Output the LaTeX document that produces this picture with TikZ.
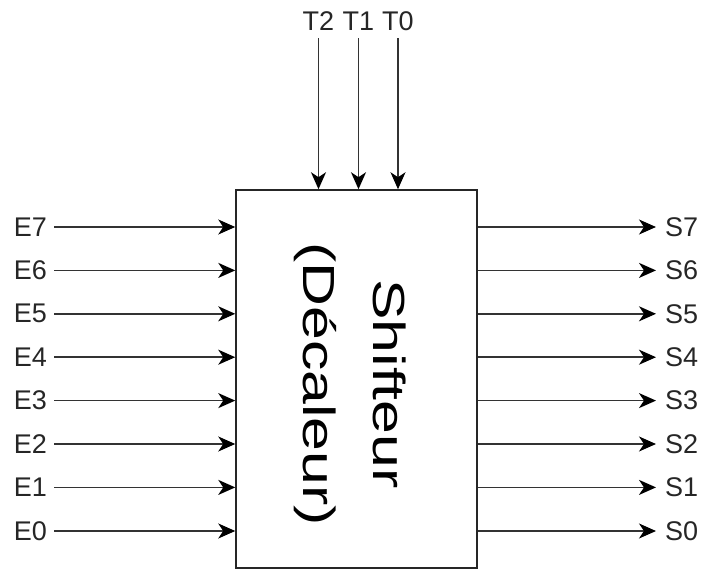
\documentclass[tikz,border=0pt]{standalone}
\usepackage{fontspec}
\setmainfont{Liberation Sans}
\usetikzlibrary{arrows.meta}
\tikzset{
  wire/.style={draw=black!80, line width=1.6pt, -{Stealth[length=17pt,width=15pt,inset=5pt,color=black]}},
  sig/.style={font=\fontsize{27}{33}\selectfont, inner sep=0pt, text=black!85},
}
\begin{document}
\begin{tikzpicture}[x=1pt,y=-1pt]
\useasboundingbox (0,0) rectangle (702,570);
\node[draw=black!85, line width=1.5pt, minimum width=241pt, minimum height=378pt, inner sep=0pt] (box) at (356.5,379) {};
\node[rotate=-90, xscale=1.35, align=center, inner sep=0pt, font=\fontsize{45}{70}\selectfont] (lbl) at (350,384) {Shifteur\\(Décaleur)};
% top inputs
\node[sig, anchor=south, inner ysep=7pt] (T2) at (318.5,38) {T2};
\node[sig, anchor=south, inner ysep=7pt] (T1) at (358.5,38) {T1};
\node[sig, anchor=south, inner ysep=7pt] (T0) at (398,38) {T0};
\foreach \t in {T2,T1,T0} {\draw[wire] (\t.south) -- (\t.south |- box.north);}
% left inputs and right outputs
\foreach \i/\yy in {7/227,6/270.4,5/313.8,4/357.2,3/400.6,2/444,1/487.4,0/531} {
  \node[sig, anchor=east, inner xsep=7pt] (E\i) at (54,\yy) {E\i};
  \node[sig, anchor=west, inner xsep=9pt] (S\i) at (656,\yy) {S\i};
  \draw[wire] (E\i.east) -- (E\i.east -| box.west);
  \draw[wire] (S\i.west -| box.east) -- (S\i.west);
}
\end{tikzpicture}
\end{document}
